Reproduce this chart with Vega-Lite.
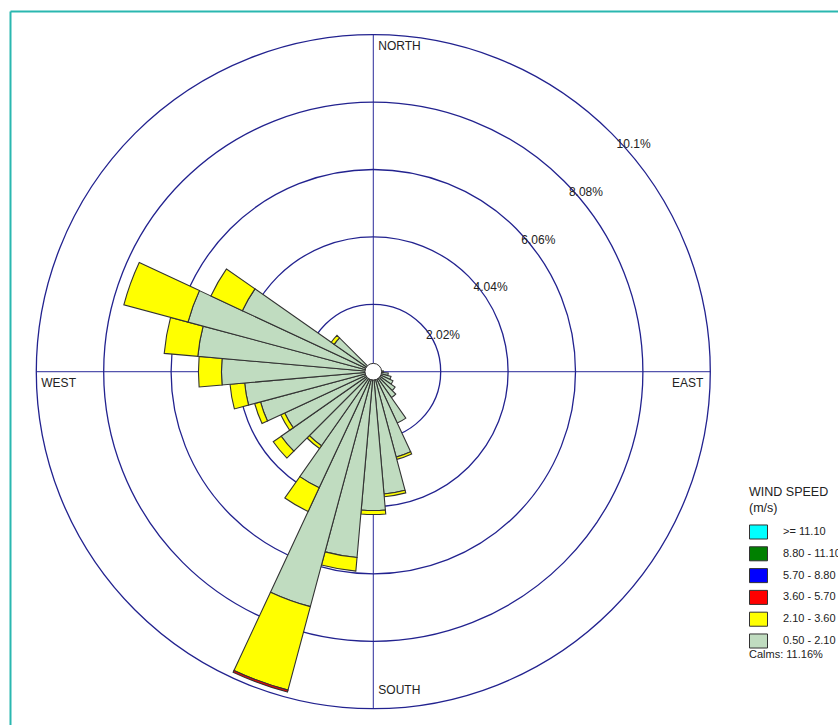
{
  "$schema": "https://vega.github.io/schema/vega-lite/v6.json",
  "width": 828,
  "height": 714,
  "padding": {"left": 10, "top": 11, "right": 0, "bottom": 0},
  "autosize": {"type": "none"},
  "config": {
    "view": {"stroke": null},
    "font": "Liberation Sans",
    "text": {"font": "Liberation Sans"}
  },
  "datasets": {
    "rings": [
      {"r": 2.02, "label": "2.02%"},
      {"r": 4.04, "label": "4.04%"},
      {"r": 6.06, "label": "6.06%"},
      {"r": 8.08, "label": "8.08%"},
      {"r": 10.1, "label": "10.1%"}
    ],
    "wind": [
      {"dir": 90, "from": 85, "to": 95, "speed": "0.50 - 2.10", "pct": 0.30},
      {"dir": 100, "from": 95, "to": 105, "speed": "0.50 - 2.10", "pct": 0.45},
      {"dir": 110, "from": 105, "to": 115, "speed": "0.50 - 2.10", "pct": 0.55},
      {"dir": 120, "from": 115, "to": 125, "speed": "0.50 - 2.10", "pct": 0.65},
      {"dir": 130, "from": 125, "to": 135, "speed": "0.50 - 2.10", "pct": 0.80},
      {"dir": 140, "from": 135, "to": 145, "speed": "0.50 - 2.10", "pct": 0.95},
      {"dir": 150, "from": 145, "to": 155, "speed": "0.50 - 2.10", "pct": 1.70},
      {"dir": 160, "from": 155, "to": 165, "speed": "0.50 - 2.10", "pct": 2.65},
      {"dir": 160, "from": 155, "to": 165, "speed": "2.10 - 3.60", "pct": 0.07},
      {"dir": 170, "from": 165, "to": 175, "speed": "0.50 - 2.10", "pct": 3.68},
      {"dir": 170, "from": 165, "to": 175, "speed": "2.10 - 3.60", "pct": 0.08},
      {"dir": 180, "from": 175, "to": 185, "speed": "0.50 - 2.10", "pct": 4.16},
      {"dir": 180, "from": 175, "to": 185, "speed": "2.10 - 3.60", "pct": 0.12},
      {"dir": 190, "from": 185, "to": 195, "speed": "0.50 - 2.10", "pct": 5.59},
      {"dir": 190, "from": 185, "to": 195, "speed": "2.10 - 3.60", "pct": 0.41},
      {"dir": 200, "from": 195, "to": 205, "speed": "0.50 - 2.10", "pct": 7.29},
      {"dir": 200, "from": 195, "to": 205, "speed": "2.10 - 3.60", "pct": 2.59},
      {"dir": 200, "from": 195, "to": 205, "speed": "3.60 - 5.70", "pct": 0.06},
      {"dir": 210, "from": 205, "to": 215, "speed": "0.50 - 2.10", "pct": 3.84},
      {"dir": 210, "from": 205, "to": 215, "speed": "2.10 - 3.60", "pct": 0.78},
      {"dir": 220, "from": 215, "to": 225, "speed": "0.50 - 2.10", "pct": 2.71},
      {"dir": 220, "from": 215, "to": 225, "speed": "2.10 - 3.60", "pct": 0.10},
      {"dir": 230, "from": 225, "to": 235, "speed": "0.50 - 2.10", "pct": 3.37},
      {"dir": 230, "from": 225, "to": 235, "speed": "2.10 - 3.60", "pct": 0.29},
      {"dir": 240, "from": 235, "to": 245, "speed": "0.50 - 2.10", "pct": 2.93},
      {"dir": 240, "from": 235, "to": 245, "speed": "2.10 - 3.60", "pct": 0.13},
      {"dir": 250, "from": 245, "to": 255, "speed": "0.50 - 2.10", "pct": 3.50},
      {"dir": 250, "from": 245, "to": 255, "speed": "2.10 - 3.60", "pct": 0.18},
      {"dir": 260, "from": 255, "to": 265, "speed": "0.50 - 2.10", "pct": 3.87},
      {"dir": 260, "from": 255, "to": 265, "speed": "2.10 - 3.60", "pct": 0.44},
      {"dir": 270, "from": 265, "to": 275, "speed": "0.50 - 2.10", "pct": 4.55},
      {"dir": 270, "from": 265, "to": 275, "speed": "2.10 - 3.60", "pct": 0.69},
      {"dir": 280, "from": 275, "to": 285, "speed": "0.50 - 2.10", "pct": 5.28},
      {"dir": 280, "from": 275, "to": 285, "speed": "2.10 - 3.60", "pct": 1.01},
      {"dir": 290, "from": 285, "to": 295, "speed": "0.50 - 2.10", "pct": 5.75},
      {"dir": 290, "from": 285, "to": 295, "speed": "2.10 - 3.60", "pct": 1.99},
      {"dir": 300, "from": 295, "to": 305, "speed": "0.50 - 2.10", "pct": 4.33},
      {"dir": 300, "from": 295, "to": 305, "speed": "2.10 - 3.60", "pct": 1.04},
      {"dir": 310, "from": 305, "to": 315, "speed": "0.50 - 2.10", "pct": 1.43},
      {"dir": 310, "from": 305, "to": 315, "speed": "2.10 - 3.60", "pct": 0.11}
    ]
  },
  "layer": [
    {
      "data": {"values": [
        {"x1": 0, "y1": -10.1, "x2": 0, "y2": 10.1},
        {"x1": -10.1, "y1": 0, "x2": 10.1, "y2": 0}
      ]},
      "mark": {"type": "rule", "stroke": "#2a2a9a", "strokeWidth": 1},
      "encoding": {
        "x": {"field": "x1", "type": "quantitative",
              "scale": {"domain": [-10.887, 13.926], "nice": false, "zero": false},
              "axis": {"orient": "top", "domainColor": "#2ab7b0", "domainWidth": 2, "ticks": false, "labels": false, "grid": false, "title": null}},
        "x2": {"field": "x2"},
        "y": {"field": "y1", "type": "quantitative",
              "scale": {"domain": [-10.587, 10.809], "nice": false, "zero": false},
              "axis": {"orient": "left", "domainColor": "#2ab7b0", "domainWidth": 2, "ticks": false, "labels": false, "grid": false, "title": null}},
        "y2": {"field": "y2"}
      }
    },
    {
      "data": {"name": "rings"},
      "mark": {"type": "arc", "fill": "transparent", "stroke": "#22228f", "strokeWidth": 1.3},
      "encoding": {
        "x": {"datum": 0, "type": "quantitative"},
        "y": {"datum": 0, "type": "quantitative"},
        "theta": {"datum": 0, "type": "quantitative", "scale": {"domain": [0, 360], "zero": true, "nice": false}},
        "theta2": {"datum": 360},
        "radius": {"field": "r", "type": "quantitative", "stack": null,
                   "scale": {"type": "linear", "domain": [0, 10.1], "range": [0, 337], "zero": true, "nice": false}}
      }
    },
    {
      "data": {"name": "wind"},
      "transform": [
        {"stack": "pct", "groupby": ["dir"], "sort": [{"field": "speed", "order": "ascending"}], "as": ["r0", "r1"]}
      ],
      "mark": {"type": "arc", "stroke": "#333333", "strokeWidth": 1.1},
      "encoding": {
        "x": {"datum": 0, "type": "quantitative"},
        "y": {"datum": 0, "type": "quantitative"},
        "theta": {"field": "from", "type": "quantitative", "stack": null},
        "theta2": {"field": "to"},
        "radius": {"field": "r1", "type": "quantitative", "stack": null},
        "radius2": {"field": "r0"},
        "color": {
          "field": "speed", "type": "nominal",
          "scale": {
            "domain": [">= 11.10", "8.80 - 11.10", "5.70 - 8.80", "3.60 - 5.70", "2.10 - 3.60", "0.50 - 2.10"],
            "range": ["#00ffff", "#008000", "#0000ff", "#ff0000", "#ffff00", "#c0dcc0"]
          },
          "legend": {
            "orient": "none",
            "legendX": 739,
            "legendY": 475,
            "padding": 0,
            "title": ["WIND SPEED", "(m/s)"],
            "titleFontSize": 12.5,
            "titleFontWeight": "normal",
            "titleColor": "#222222",
            "titleLineHeight": 16,
            "titlePadding": 8,
            "symbolType": "M-1,-0.78H1V0.78H-1Z",
            "symbolSize": 324,
            "symbolStrokeColor": "#333333",
            "symbolStrokeWidth": 1,
            "symbolOpacity": 1,
            "labelFontSize": 11,
            "labelColor": "#222222",
            "labelOffset": 15,
            "rowPadding": 2.8
          }
        }
      }
    },
    {
      "data": {"values": [{"c": 0.25}]},
      "mark": {"type": "arc", "fill": "white", "stroke": "#333333", "strokeWidth": 1},
      "encoding": {
        "x": {"datum": 0, "type": "quantitative"},
        "y": {"datum": 0, "type": "quantitative"},
        "theta": {"datum": 0, "type": "quantitative"},
        "theta2": {"datum": 360},
        "radius": {"field": "c", "type": "quantitative", "stack": null}
      }
    },
    {
      "data": {"name": "rings"},
      "mark": {"type": "text", "align": "left", "baseline": "top", "dx": 5, "dy": 6, "fontSize": 12, "color": "#222222"},
      "encoding": {
        "x": {"datum": 0, "type": "quantitative"},
        "y": {"datum": 0, "type": "quantitative"},
        "theta": {"datum": 45, "type": "quantitative"},
        "radius": {"field": "r", "type": "quantitative", "stack": null},
        "text": {"field": "label"}
      }
    },
    {
      "data": {"values": [{"label": "NORTH", "a": 0, "r": 10.1}, {"label": "WEST", "a": 270, "r": 10.1}]},
      "mark": {"type": "text", "align": "left", "baseline": "top", "dx": 5, "dy": 6, "fontSize": 12, "color": "#222222"},
      "encoding": {
        "x": {"datum": 0, "type": "quantitative"},
        "y": {"datum": 0, "type": "quantitative"},
        "theta": {"field": "a", "type": "quantitative", "stack": null},
        "radius": {"field": "r", "type": "quantitative", "stack": null},
        "text": {"field": "label"}
      }
    },
    {
      "data": {"values": [{"label": "SOUTH", "a": 180, "r": 10.1}]},
      "mark": {"type": "text", "align": "left", "baseline": "bottom", "dx": 5, "dy": -12, "fontSize": 12, "color": "#222222"},
      "encoding": {
        "x": {"datum": 0, "type": "quantitative"},
        "y": {"datum": 0, "type": "quantitative"},
        "theta": {"field": "a", "type": "quantitative", "stack": null},
        "radius": {"field": "r", "type": "quantitative", "stack": null},
        "text": {"field": "label"}
      }
    },
    {
      "data": {"values": [{"label": "EAST", "a": 90, "r": 10.1}]},
      "mark": {"type": "text", "align": "right", "baseline": "top", "dx": -7, "dy": 6, "fontSize": 12, "color": "#222222"},
      "encoding": {
        "x": {"datum": 0, "type": "quantitative"},
        "y": {"datum": 0, "type": "quantitative"},
        "theta": {"field": "a", "type": "quantitative", "stack": null},
        "radius": {"field": "r", "type": "quantitative", "stack": null},
        "text": {"field": "label"}
      }
    },
    {
      "data": {"values": [{"label": "Calms: 11.16%"}]},
      "mark": {"type": "text", "align": "left", "baseline": "middle", "fontSize": 11, "color": "#222222"},
      "encoding": {
        "x": {"datum": 11.26, "type": "quantitative"},
        "y": {"datum": -8.49, "type": "quantitative"},
        "text": {"field": "label"}
      }
    }
  ]
}
